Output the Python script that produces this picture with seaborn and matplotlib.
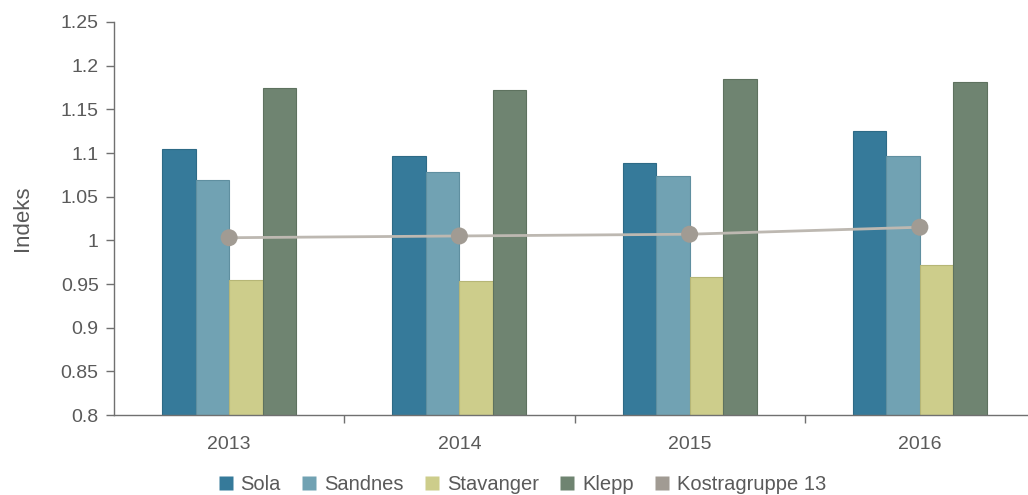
import numpy as np
import pandas as pd
import matplotlib
matplotlib.use("Agg")
import matplotlib.pyplot as plt
from matplotlib.lines import Line2D
import seaborn as sns

# Data
years = ["2013", "2014", "2015", "2016"]
sola = [1.105, 1.097, 1.088, 1.125]
sandnes = [1.069, 1.078, 1.074, 1.096]
stavanger = [0.955, 0.953, 0.958, 0.972]
klepp = [1.174, 1.172, 1.185, 1.181]
kostragruppe = [1.003, 1.005, 1.007, 1.015]

bar_names = ["Sola", "Sandnes", "Stavanger", "Klepp"]
line_name = "Kostragruppe 13"
colors = {"Sola": "#367a9a", "Sandnes": "#71a2b3", "Stavanger": "#cdcd8b",
          "Klepp": "#6f8471", "Kostragruppe 13": "#a19b93"}
edges = {"Sola": "#2d6a86", "Sandnes": "#5f8fa0", "Stavanger": "#b6b676",
         "Klepp": "#5e725f"}

sns.set_style("white", {"ytick.left": True, "xtick.bottom": True})
plt.rcParams['font.family'] = ['Liberation Sans', 'DejaVu Sans']
text_color = "#5a5a5a"

df = pd.DataFrame({
    "year": years * 4,
    "kommune": sum([[n] * 4 for n in bar_names], []),
    "value": sola + sandnes + stavanger + klepp,
})
df_line = pd.DataFrame({"year": years, "value": kostragruppe})

fig = plt.figure(figsize=(10.28, 4.95), dpi=100)
ax = fig.add_axes([114 / 1028, 1 - 415 / 495, (1028 - 114) / 1028, (415 - 22) / 495])

sns.barplot(data=df, x="year", y="value", hue="kommune", hue_order=bar_names,
            palette=colors, width=0.583, gap=0, linewidth=0.8, saturation=1,
            ax=ax, legend=False)
for patch_group, name in zip(ax.containers, bar_names):
    for p in patch_group:
        p.set_edgecolor(edges[name])

sns.pointplot(data=df_line, x="year", y="value", color="#bdb8b1",
              markers="o", linestyles="-", markersize=0, linewidth=2, ax=ax)
ax.scatter(range(len(years)), kostragruppe, s=150, color=colors[line_name],
           zorder=5, edgecolor="none")

sns.despine(ax=ax, top=True, right=True)
ax.spines["left"].set_color("#707070")
ax.spines["bottom"].set_color("#707070")
ax.spines["left"].set_linewidth(1)
ax.spines["bottom"].set_linewidth(1)

ax.set_ylim(0.8, 1.25)
ax.set_xlim(-0.5, 3.5 - 7 / 230)
ax.set_yticks(np.arange(0.8, 1.2501, 0.05))
ax.set_yticklabels(["0.8", "0.85", "0.9", "0.95", "1", "1.05", "1.1", "1.15", "1.2", "1.25"])

ax.set_xticks(range(len(years)))
ax.set_xticklabels(years)
ax.set_xticks([0.5, 1.5, 2.5], minor=True)
ax.tick_params(axis="x", which="major", length=0, pad=15, labelsize=14, colors=text_color)
ax.tick_params(axis="x", which="minor", length=6, width=1, color="#707070",
               direction="out", bottom=True)
ax.tick_params(axis="y", which="major", length=6, width=1, color="#707070",
               labelsize=14, labelcolor=text_color, pad=5, left=True,
               direction="out")
ax.set_xlabel("")
ax.set_ylabel("Indeks", fontsize=16, color=text_color, labelpad=20)

handles = [Line2D([], [], marker="s", linestyle="none", markersize=10,
                  markerfacecolor=colors[n], markeredgecolor="none")
           for n in bar_names + [line_name]]
fig.legend(handles, bar_names + [line_name], loc="center", ncol=5,
           bbox_to_anchor=(521 / 1028, 1 - 485 / 495), frameon=False,
           fontsize=14.5, labelcolor=text_color, handletextpad=0.25,
           columnspacing=0.9, handlelength=1.0)

fig.savefig("out.png", dpi=100)
